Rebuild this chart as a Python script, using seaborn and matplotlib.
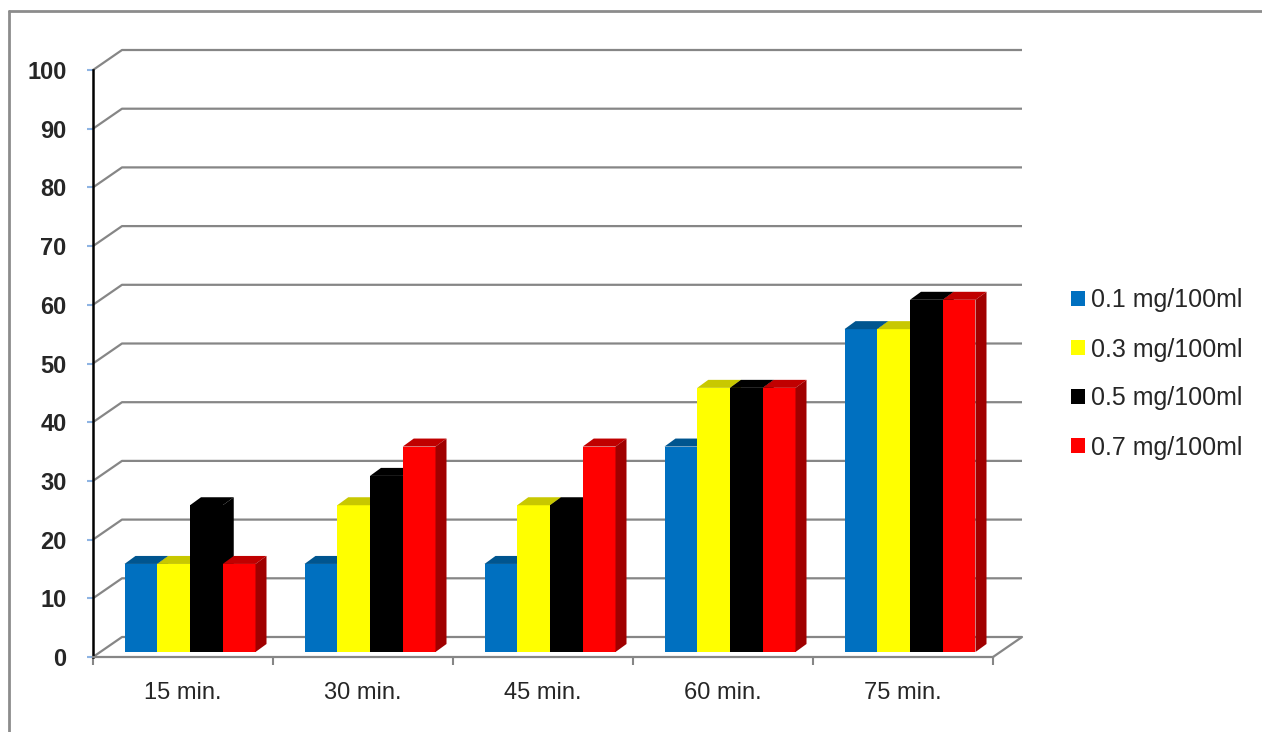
import numpy as np
import pandas as pd
import seaborn as sns
import matplotlib.pyplot as plt
from matplotlib.patches import Polygon, Patch
from matplotlib.lines import Line2D

# data
times = ['15 min.', '30 min.', '45 min.', '60 min.', '75 min.']
doses = ['0.1 mg/100ml', '0.3 mg/100ml', '0.5 mg/100ml', '0.7 mg/100ml']
dose_01 = [15, 15, 15, 35, 55]
dose_03 = [15, 25, 25, 45, 55]
dose_05 = [25, 30, 25, 45, 60]
dose_07 = [15, 35, 35, 45, 60]

front_cols = ['#0070C0', '#FFFF00', '#000000', '#FF0000']
top_cols = ['#00558F', '#C8C800', '#000000', '#C00000']
side_cols = ['#004A80', '#B0B000', '#000000', '#A00000']

rows = []
for d, vals in zip(doses, [dose_01, dose_03, dose_05, dose_07]):
    for t, v in zip(times, vals):
        rows.append({'time': t, 'dose': d, 'value': v})
df = pd.DataFrame(rows)

sns.set_style('white')
plt.rcParams['font.family'] = ['Liberation Sans', 'DejaVu Sans']

W, H = 1262, 732
fig = plt.figure(figsize=(W / 100, H / 100), dpi=100)
# axes in pixel terms
L, R, T, B = 93, 1022, 50, 657
ax = fig.add_axes([L / W, 1 - B / H, (R - L) / W, (B - T) / H])

px_x = 180.0           # pixels per category
px_y = (657 - 70) / 100  # pixels per unit
xmax = -0.5 + (R - L) / px_x
ymax = (B - T) / px_y

sns.barplot(data=df, x='time', y='value', hue='dose', palette=front_cols,
            width=131 / px_x, saturation=1, legend=False, ax=ax,
            edgecolor='none', linewidth=0, errorbar=None)

ax.set_xlim(-0.5, xmax)
ax.set_ylim(0, ymax)

# back wall / side wall gridlines
dxb, dyb = 29 / px_x, 20 / px_y
grid_col = '#868686'
for y in range(0, 101, 10):
    ax.plot([-0.5, -0.5 + dxb, xmax], [y, y + dyb, y + dyb],
            color=grid_col, lw=1.6, zorder=1, clip_on=False, solid_capstyle='butt')
ax.plot([4.5, 4.5 + dxb], [0, dyb], color=grid_col, lw=1.6, zorder=1, clip_on=False)

# pseudo 3d bars
sx, sy = 7 / px_x, 5 / px_y
ddx, ddy = 11 / px_x, 8 / px_y
for i, cont in enumerate(ax.containers):
    for p in cont.patches:
        p.set_x(p.get_x() + sx)
        p.set_y(p.get_y() + sy)
        p.set_zorder(3 + i)
        x0, y0, w, h = p.get_x(), p.get_y(), p.get_width(), p.get_height()
        top = Polygon([(x0, y0 + h), (x0 + w, y0 + h), (x0 + w + ddx, y0 + h + ddy),
                       (x0 + ddx, y0 + h + ddy)], closed=True,
                      facecolor=top_cols[i], edgecolor='none', zorder=3 + i)
        side = Polygon([(x0 + w, y0), (x0 + w + ddx, y0 + ddy), (x0 + w + ddx, y0 + h + ddy),
                        (x0 + w, y0 + h)], closed=True,
                       facecolor=side_cols[i], edgecolor='none', zorder=3 + i)
        ax.add_patch(top)
        ax.add_patch(side)

# axes styling
for s in ['top', 'right']:
    ax.spines[s].set_visible(False)
ax.spines['left'].set_color('black')
ax.spines['left'].set_linewidth(1.8)
ax.spines['left'].set_bounds(0, 100)
ax.spines['bottom'].set_color(grid_col)
ax.spines['bottom'].set_linewidth(1.6)
ax.spines['bottom'].set_bounds(-0.5, 4.5)

ax.set_yticks(range(0, 101, 10))
ax.set_yticklabels([str(v) for v in range(0, 101, 10)], fontsize=17, fontweight='bold')
ax.tick_params(axis='y', direction='out', length=4, width=1.5, color='#8EB4E3', pad=15, left=True)

ax.set_xticks(range(len(times)))
ax.set_xticklabels(times, fontsize=17)
ax.tick_params(axis='x', length=0, pad=18, bottom=True)
ax.set_xticks(np.arange(-0.5, 5, 1), minor=True)
ax.tick_params(axis='x', which='minor', length=6, width=1.5, color=grid_col, bottom=True)
ax.set_xlabel('')
ax.set_ylabel('')
ax.grid(False)

# legend
handles = [Patch(facecolor=c, edgecolor='none') for c in front_cols]
fig.legend(handles, doses, loc='center left', bbox_to_anchor=(1071 / W, 1 - 374 / H),
           frameon=False, fontsize=18, handlelength=0.56, handleheight=0.56,
           handletextpad=0.24, labelspacing=1.0, borderpad=0, borderaxespad=0)

# chart area border (left and top edges visible)
fig.add_artist(Line2D([9 / W, 9 / W], [0, 1 - 11 / H], transform=fig.transFigure,
                      color='#8C8C8C', lw=2))
fig.add_artist(Line2D([9 / W, 1], [1 - 11 / H, 1 - 11 / H], transform=fig.transFigure,
                      color='#8C8C8C', lw=2))

fig.savefig('out.png', dpi=100)
